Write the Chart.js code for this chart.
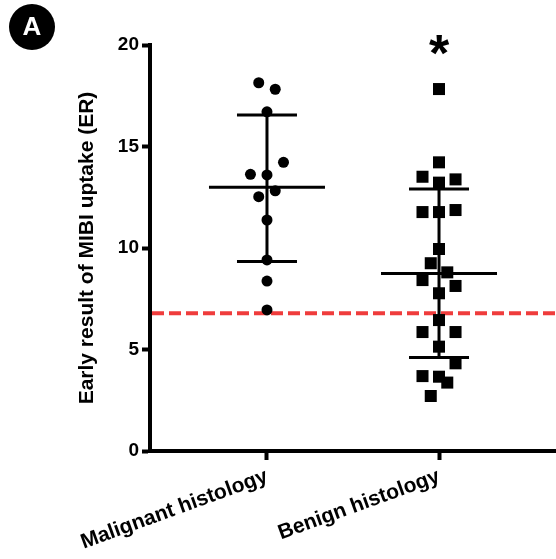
<!DOCTYPE html>
<html>
<head>
<meta charset="utf-8">
<script src="https://cdn.jsdelivr.net/npm/chart.js@4"></script>
<style>
  html, body { margin: 0; padding: 0; background: #fff; }
  #wrap { width: 556px; height: 559px; position: relative; }
</style>
</head>
<body>
<div id="wrap"><canvas id="erChart"></canvas></div>
<script>
// DATA

const categories = ['Malignant histology', 'Benign histology'];

const malignantValues = [18.14, 17.82, 16.71, 14.22, 13.63, 13.60, 12.82, 12.53, 11.38, 9.41, 8.37, 6.95];
const malignantSlots  = [-1, 1, 0, 2, -2, 0, 1, -1, 0, 0, 0, 0];

const benignValues = [17.83, 14.22, 13.51, 13.38, 13.22, 11.77, 11.77, 11.87, 9.95, 9.25, 8.80, 8.42,
                      8.13, 7.77, 6.45, 5.86, 5.86, 5.14, 4.32, 3.69, 3.66, 3.37, 2.71];
const benignSlots  = [0, 0, -2, 2, 0, -2, 0, 2, 0, -1, 1, -2, 2, 0, 0, -2, 2, 0, 2, -2, 0, 1, -1];

const groupMeans = [12.99, 8.75];
const groupUpper = [16.55, 12.91];
const groupLower = [9.34, 4.60];

const cutoffValue = 6.78;
const yTicks = [0, 5, 10, 15, 20];
const significance = ['', '*'];

const slotWidth = 0.048;

function toPoints(values, slots, cat){
  return values.map((v, i) => ({ x: cat + slots[i] * slotWidth, y: v }));
}

// PLUGINS

const cutoffLine = {
  id: 'cutoffLine',
  beforeDatasetsDraw(chart){
    const {ctx, chartArea, scales} = chart;
    const y = scales.y.getPixelForValue(cutoffValue);
    ctx.save();
    ctx.strokeStyle = 'rgba(238,50,50,0.95)';
    ctx.lineWidth = 4;
    ctx.setLineDash([12, 5]);
    ctx.beginPath();
    ctx.moveTo(chartArea.left + 2, y);
    ctx.lineTo(chartArea.right, y);
    ctx.stroke();
    ctx.restore();
  }
};

const meanSd = {
  id: 'meanSd',
  afterDatasetsDraw(chart){
    const {ctx, scales} = chart;
    ctx.save();
    ctx.strokeStyle = '#000';
    ctx.lineWidth = 3;
    groupMeans.forEach((m, i) => {
      const x = scales.x.getPixelForValue(i + 1);
      const ym = scales.y.getPixelForValue(m);
      const yu = scales.y.getPixelForValue(groupUpper[i]);
      const yl = scales.y.getPixelForValue(groupLower[i]);
      ctx.beginPath();
      ctx.moveTo(x - 58, ym); ctx.lineTo(x + 58, ym);
      ctx.moveTo(x, yu); ctx.lineTo(x, yl);
      ctx.moveTo(x - 30, yu); ctx.lineTo(x + 30, yu);
      ctx.moveTo(x - 30, yl); ctx.lineTo(x + 30, yl);
      ctx.stroke();
    });
    ctx.restore();
  }
};

const extras = {
  id: 'extras',
  afterDraw(chart){
    const {ctx, scales} = chart;
    ctx.save();
    // significance marks
    ctx.fillStyle = '#000';
    ctx.font = 'bold 52px "Liberation Sans", Arial, sans-serif';
    ctx.textAlign = 'center';
    ctx.textBaseline = 'alphabetic';
    significance.forEach((s, i) => {
      if(!s) return;
      const x = scales.x.getPixelForValue(i + 1);
      const y = scales.y.getPixelForValue(20);
      ctx.fillText(s, x, y + 26);
    });
    // panel badge
    ctx.beginPath();
    ctx.arc(32, 27, 23, 0, Math.PI * 2);
    ctx.fill();
    ctx.fillStyle = '#fff';
    ctx.font = 'bold 26px "Liberation Sans", Arial, sans-serif';
    ctx.textBaseline = 'middle';
    ctx.fillText('A', 32, 28);
    ctx.restore();
  }
};

// CHART

const tickFont = { family: '"Liberation Sans", Arial, sans-serif', size: 19, weight: 'bold' };
const labelFont = { family: '"Liberation Sans", Arial, sans-serif', size: 21, weight: 'bold' };

new Chart(document.getElementById('erChart'), {
  type: 'scatter',
  data: {
    datasets: [
      {
        label: categories[0],
        data: toPoints(malignantValues, malignantSlots, 1),
        pointStyle: 'circle',
        pointRadius: 5.5,
        backgroundColor: '#000',
        borderColor: '#000',
        borderWidth: 0
      },
      {
        label: categories[1],
        data: toPoints(benignValues, benignSlots, 2),
        pointStyle: 'rect',
        pointRadius: 8.5,
        backgroundColor: '#000',
        borderColor: '#000',
        borderWidth: 0
      }
    ]
  },
  options: {
    responsive: true,
    maintainAspectRatio: false,
    animation: false,
    layout: { autoPadding: false, padding: { top: 45, right: 0, bottom: 0, left: 0 } },
    plugins: {
      legend: { display: false },
      tooltip: { enabled: false }
    },
    scales: {
      x: {
        type: 'linear',
        min: 0.32,
        max: 2.68,
        afterBuildTicks(scale){
          scale.ticks = categories.map((c, i) => ({ value: i + 1 }));
        },
        afterFit(scale){
          scale.height = 108;
          scale.paddingLeft = 0;
          scale.paddingRight = 0;
        },
        ticks: {
          autoSkip: false,
          minRotation: 20,
          maxRotation: 20,
          padding: 4,
          color: '#000',
          font: labelFont,
          callback: (v) => categories[Math.round(v) - 1] || ''
        },
        grid: {
          drawOnChartArea: false,
          drawTicks: true,
          tickLength: 9,
          tickWidth: 4,
          tickColor: '#000'
        },
        border: { display: true, color: '#000', width: 4 }
      },
      y: {
        min: 0,
        max: 20,
        afterBuildTicks(scale){
          scale.ticks = yTicks.map(v => ({ value: v }));
        },
        afterFit(scale){
          scale.width = 150;
        },
        ticks: {
          padding: 3,
          color: '#000',
          font: tickFont
        },
        grid: {
          drawOnChartArea: false,
          drawTicks: true,
          tickLength: 8,
          tickWidth: 4,
          tickColor: '#000'
        },
        border: { display: true, color: '#000', width: 4 },
        title: {
          display: true,
          text: 'Early result of MIBI uptake (ER)',
          color: '#000',
          font: labelFont,
          padding: { top: 75, bottom: 0 }
        }
      }
    }
  },
  plugins: [cutoffLine, meanSd, extras]
});
</script>
</body>
</html>
